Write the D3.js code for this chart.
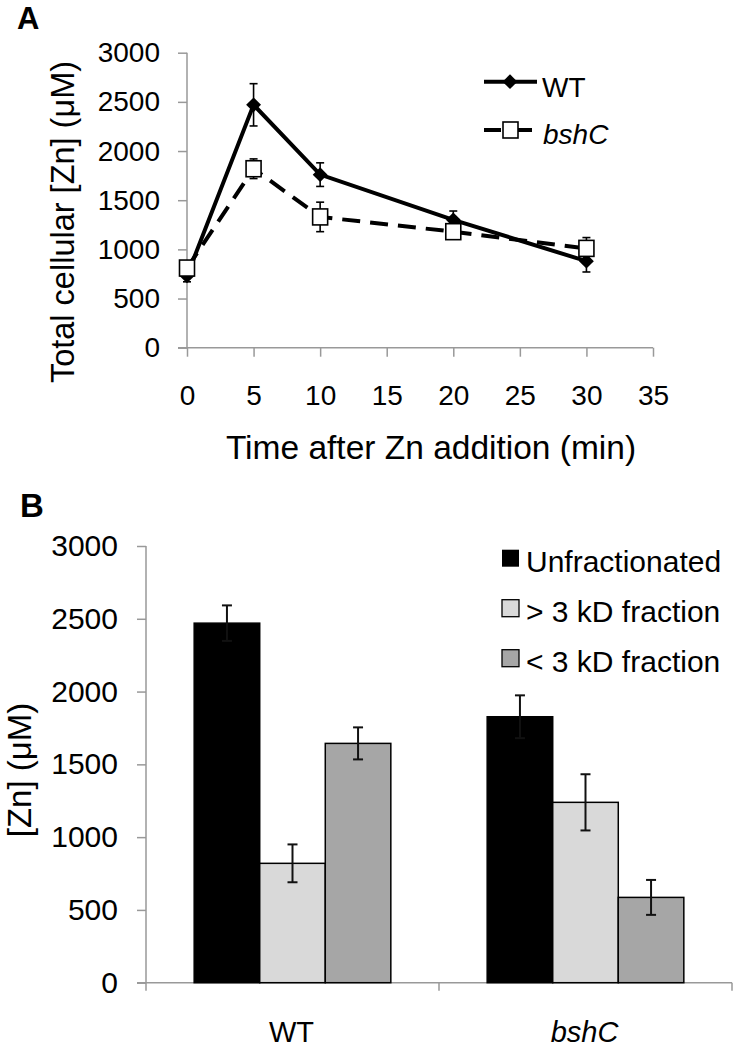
<!DOCTYPE html>
<html><head><meta charset="utf-8">
<script src="https://cdn.jsdelivr.net/npm/d3@7"></script>
<style>
html,body{margin:0;padding:0;background:#fff;}
text{font-family:"Liberation Sans",Arial,Helvetica,sans-serif;fill:#000;}
</style></head>
<body>
<svg id="chart" width="734" height="1050"></svg>
<script>
// ---------- Panel A data ----------
const times = [0, 5, 10, 20, 30];
const wtValues = [730, 2470, 1760, 1300, 880];
const wtErrors = [60, 215, 120, 90, 110];
const bshCValues = [810, 1820, 1330, 1180, 1010];
const bshCErrors = [60, 100, 150, 40, 110];
const timeTicks = [0, 5, 10, 15, 20, 25, 30, 35];
const concTicks = [0, 500, 1000, 1500, 2000, 2500, 3000];

// ---------- Panel B data ----------
const strains = ["WT", "bshC"];
const fractions = ["Unfractionated", "> 3 kD fraction", "< 3 kD fraction"];
const unfracValues = [2470, 1827];
const unfracErrors = [122, 147];
const above3Values = [820, 1239];
const above3Errors = [130, 193];
const below3Values = [1644, 586];
const below3Errors = [110, 120];
const fractionColors = ["#000000", "#d9d9d9", "#a6a6a6"];

const svg = d3.select("#chart");
const axisGray = "#999999";
const FONT = "Liberation Sans, Arial, sans-serif";

// ================= Panel A =================
const gA = svg.append("g");
const xA = d3.scaleLinear().domain([0, 35]).range([187, 653]);
const yA = d3.scaleLinear().domain([0, 3000]).range([347.7, 52.7]);

const yAxisA = gA.append("g").attr("transform", "translate(187,0)")
  .call(d3.axisLeft(yA).tickValues(concTicks).tickSize(9).tickPadding(18).tickFormat(d3.format("d")));
const xAxisA = gA.append("g").attr("transform", "translate(0,347.7)")
  .call(d3.axisBottom(xA).tickValues(timeTicks).tickSize(9).tickPadding(28).tickFormat(d3.format("d")));
[yAxisA, xAxisA].forEach(ax => {
  ax.select(".domain").remove();
  ax.selectAll("line").attr("stroke", axisGray).attr("stroke-width", 1.5);
  ax.selectAll("text").attr("font-size", 28).attr("font-family", FONT).attr("fill", "#000");
});
gA.append("line").attr("x1", 187).attr("x2", 187).attr("y1", yA(3000)).attr("y2", yA(0)).attr("stroke", axisGray).attr("stroke-width", 1.5);
gA.append("line").attr("x1", 178).attr("x2", xA(35)).attr("y1", yA(0)).attr("y2", yA(0)).attr("stroke", axisGray).attr("stroke-width", 1.5);

gA.append("text").attr("x", 17).attr("y", 28.5).attr("font-size", 31).attr("font-weight", "bold").text("A");
gA.append("text").attr("transform", "translate(74,222) rotate(-90)").attr("text-anchor", "middle")
  .attr("font-size", 32.5).text("Total cellular [Zn] (μM)");
gA.append("text").attr("x", 431).attr("y", 459).attr("text-anchor", "middle").attr("font-size", 33.5)
  .text("Time after Zn addition (min)");

const seriesA = [
  {name: "WT", values: wtValues, errors: wtErrors, dash: null, marker: "diamond"},
  {name: "bshC", values: bshCValues, errors: bshCErrors, dash: "18,10", marker: "square"}
];
const lineA = d3.line().x((d, i) => xA(times[i])).y(d => yA(d));

[seriesA[1], seriesA[0]].forEach(s => {
  gA.append("path").datum(s.values).attr("d", lineA).attr("fill", "none")
    .attr("stroke", "#000").attr("stroke-width", 4).attr("stroke-dasharray", s.dash);
});
seriesA.forEach(s => {
  s.values.forEach((v, i) => {
    const x = xA(times[i]);
    const g = gA.append("g").attr("stroke", "#000").attr("stroke-width", 1.6);
    g.append("line").attr("x1", x).attr("x2", x).attr("y1", yA(v - s.errors[i])).attr("y2", yA(v + s.errors[i]));
    g.append("line").attr("x1", x - 4).attr("x2", x + 4).attr("y1", yA(v + s.errors[i])).attr("y2", yA(v + s.errors[i]));
    g.append("line").attr("x1", x - 4).attr("x2", x + 4).attr("y1", yA(v - s.errors[i])).attr("y2", yA(v - s.errors[i]));
  });
});
function drawMarker(g, type, x, y) {
  if (type === "diamond") {
    g.append("path").attr("d", d3.symbol().type(d3.symbolSquare).size(110)())
      .attr("transform", `translate(${x},${y}) rotate(45)`).attr("fill", "#000");
  } else {
    g.append("rect").attr("x", x - 7.5).attr("y", y - 8).attr("width", 15).attr("height", 16)
      .attr("fill", "#fff").attr("stroke", "#000").attr("stroke-width", 1.6);
  }
}
seriesA.forEach(s => {
  s.values.forEach((v, i) => drawMarker(gA, s.marker, xA(times[i]), yA(v)));
});

const legA = gA.append("g");
legA.append("line").attr("x1", 484).attr("x2", 537).attr("y1", 81.7).attr("y2", 81.7).attr("stroke", "#000").attr("stroke-width", 4);
drawMarker(legA, "diamond", 510, 81.7);
legA.append("text").attr("x", 542).attr("y", 97).attr("font-size", 28).text("WT");
legA.append("line").attr("x1", 484).attr("x2", 501).attr("y1", 130).attr("y2", 130).attr("stroke", "#000").attr("stroke-width", 4);
legA.append("line").attr("x1", 518).attr("x2", 532).attr("y1", 130).attr("y2", 130).attr("stroke", "#000").attr("stroke-width", 4);
drawMarker(legA, "square", 510.5, 130);
legA.append("text").attr("x", 543).attr("y", 144).attr("font-size", 28).attr("font-style", "italic").text("bshC");

// ================= Panel B =================
const gB = svg.append("g");
const yB = d3.scaleLinear().domain([0, 3000]).range([982.7, 546]);
const x0 = d3.scaleBand().domain(strains).range([146, 732]).padding(0);
const x1 = d3.scaleBand().domain(fractions).range([0, x0.bandwidth()]).paddingInner(0).paddingOuter(0.735);

const yAxisB = gB.append("g").attr("transform", "translate(146,0)")
  .call(d3.axisLeft(yB).tickValues(concTicks).tickSize(9).tickPadding(19).tickFormat(d3.format("d")));
yAxisB.select(".domain").remove();
yAxisB.selectAll("line").attr("stroke", axisGray).attr("stroke-width", 1.5);
yAxisB.selectAll("text").attr("font-size", 30).attr("font-family", FONT).attr("fill", "#000");
gB.append("line").attr("x1", 146).attr("x2", 146).attr("y1", yB(3000)).attr("y2", yB(0)).attr("stroke", axisGray).attr("stroke-width", 1.5);
gB.append("line").attr("x1", 137).attr("x2", 732).attr("y1", yB(0)).attr("y2", yB(0)).attr("stroke", axisGray).attr("stroke-width", 1.5);
const bounds = [146].concat(strains.map(s => x0(s) + x0.bandwidth()));
gB.selectAll(".cattick").data(bounds).join("line").attr("class", "cattick")
  .attr("x1", d => d).attr("x2", d => d).attr("y1", yB(0)).attr("y2", yB(0) + 8)
  .attr("stroke", axisGray).attr("stroke-width", 1.5);
gB.selectAll(".catlab").data(strains).join("text").attr("class", "catlab")
  .attr("x", d => x0(d) + x0.bandwidth() / 2 - 1).attr("y", 1042).attr("text-anchor", "middle")
  .attr("font-size", 29).attr("font-style", d => d === "bshC" ? "italic" : "normal").text(d => d);

gB.append("text").attr("x", 20).attr("y", 516.7).attr("font-size", 33).attr("font-weight", "bold").text("B");
gB.append("text").attr("transform", "translate(31,770) rotate(-90)").attr("text-anchor", "middle")
  .attr("font-size", 33).text("[Zn] (μM)");

const seriesB = [
  {values: unfracValues, errors: unfracErrors},
  {values: above3Values, errors: above3Errors},
  {values: below3Values, errors: below3Errors}
];
fractions.forEach((f, fi) => {
  strains.forEach((s, si) => {
    const v = seriesB[fi].values[si];
    gB.append("rect").attr("x", x0(s) + x1(f)).attr("y", yB(v)).attr("width", x1.bandwidth()).attr("height", yB(0) - yB(v))
      .attr("fill", fractionColors[fi]).attr("stroke", "#000").attr("stroke-width", 1.5);
  });
});
fractions.forEach((f, fi) => {
  strains.forEach((s, si) => {
    const v = seriesB[fi].values[si], e = seriesB[fi].errors[si];
    const cx = x0(s) + x1(f) + x1.bandwidth() / 2;
    const g = gB.append("g").attr("stroke", "#111").attr("stroke-width", 2);
    g.append("line").attr("x1", cx).attr("x2", cx).attr("y1", yB(v + e)).attr("y2", yB(v - e));
    g.append("line").attr("x1", cx - 5).attr("x2", cx + 5).attr("y1", yB(v + e)).attr("y2", yB(v + e));
    g.append("line").attr("x1", cx - 5).attr("x2", cx + 5).attr("y1", yB(v - e)).attr("y2", yB(v - e));
  });
});

const legB = gB.append("g");
fractions.forEach((f, i) => {
  const yb = 571.7 + i * 50;
  legB.append("rect").attr("x", 502).attr("y", yb - 22).attr("width", 17).attr("height", 17)
    .attr("fill", fractionColors[i]).attr("stroke", "#000").attr("stroke-width", i === 0 ? 0 : 1.3);
  legB.append("text").attr("x", 526).attr("y", yb).attr("font-size", 30).text(f);
});
</script>
</body></html>
